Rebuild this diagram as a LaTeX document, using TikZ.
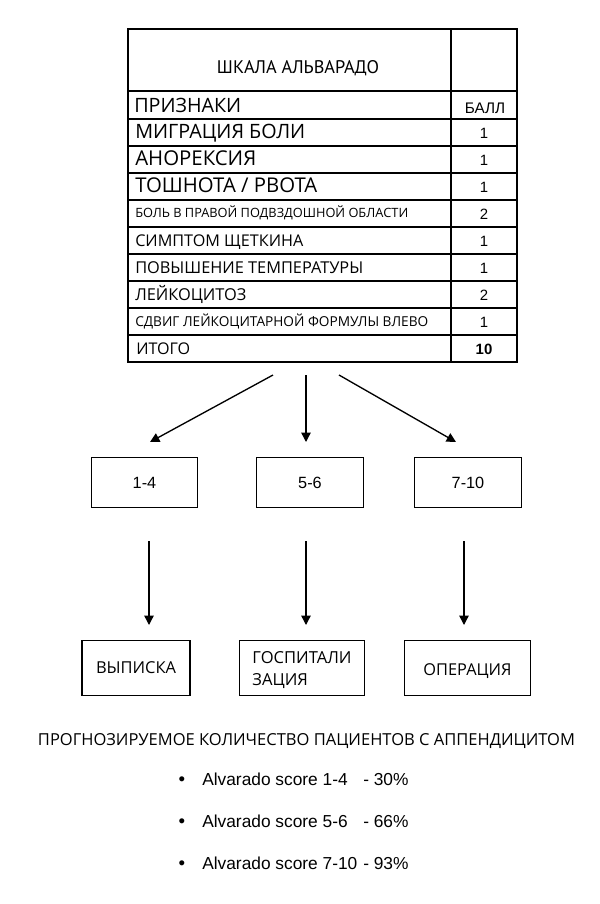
\documentclass[tikz,border=0pt]{standalone}
\usepackage{fontspec}
\setmainfont{Open Sans}
\newfontfamily\titlefont{PT Sans}
\newfontfamily\arialfont{Liberation Sans}
\usetikzlibrary{arrows.meta}

% text set to a width given in pixels of the reference
\newlength\unitpx
\setlength\unitpx{0.75pt}
\newcommand\fitpx[2]{\resizebox{#1\unitpx}{!}{#2}}
% move text down inside its box without changing the box
\newcommand\lowerpx[2]{\raisebox{-#1\unitpx}[\height][\depth]{#2}}

\tikzset{
  cell/.style={anchor=base west, inner sep=0pt},
  score/.style={anchor=base, inner sep=0pt, font=\arialfont\fontsize{11.2}{13}\selectfont},
  rangebox/.style={draw, line width=0.8pt, minimum width=80pt, minimum height=37pt,
    font=\arialfont\fontsize{12.2}{14}\selectfont},
  actbox/.style={draw, line width=0.8pt, minimum height=41pt, inner sep=0pt},
  arr/.style={-{Triangle[length=7pt,width=7pt]}, line width=1pt},
  bullettext/.style={anchor=base west, inner sep=0pt, font=\arialfont\fontsize{13}{15}\selectfont},
}

\begin{document}
\begin{tikzpicture}[x=0.75pt, y=-0.75pt]
    \useasboundingbox (0,0) rectangle (600,904);

    % Table frame
    \draw[line width=1pt] (128,29) rectangle (517,362);
    \draw[line width=1pt] (451,29) -- (451,362);
    \foreach \y in {91,119,146,173,200,227,254,281,308,335}
        \draw[line width=1pt] (128,\y) -- (517,\y);

    % Title and header
    \node[anchor=base, inner sep=0pt] (title) at (298,73) {\titlefont\fitpx{162}{ШКАЛА АЛЬВАРАДО}};
    \node[cell] (hdr) at (134,112) {\fitpx{107}{ПРИЗНАКИ}};
    \node[anchor=base, inner sep=0pt, font=\arialfont\fontsize{11.5}{13}\selectfont] (hdrval) at (485,113) {БАЛЛ};

    % Rows
    \foreach \lab/\w/\cap/\val [count=\k] in {
        {МИГРАЦИЯ БОЛИ}/170/13/1,
        {АНОРЕКСИЯ}/121/13/1,
        {ТОШНОТА / РВОТА}/182/13/1,
        {БОЛЬ В ПРАВОЙ ПОДВЗДОШНОЙ ОБЛАСТИ}/273/9/2,
        {СИМПТОМ ЩЕТКИНА}/168/12/1,
        {ПОВЫШЕНИЕ ТЕМПЕРАТУРЫ}/228/12/1,
        {ЛЕЙКОЦИТОЗ}/111/12/2,
        {СДВИГ ЛЕЙКОЦИТАРНОЙ ФОРМУЛЫ ВЛЕВО}/293/11/1}
    {
        \node[cell] (row\k) at (135,{105+27*\k+\cap/2}) {\fitpx{\w}{\lab}};
        \node[score] (val\k) at (484,{105+27*\k+6}) {\val};
    }
    \node[cell] (total) at (136,354.5) {\fitpx{54}{ИТОГО}};
    \node[score, font=\arialfont\bfseries\fontsize{11.2}{13}\selectfont] (totalval) at (484,354.5) {10};

    % Score ranges
    \node[rangebox] (low) at (144.5,482.5) {1-4};
    \node[rangebox] (mid) at (310,482.5) {5-6};
    \node[rangebox] (high) at (468,482.5) {7-10};

    % Decisions
    \node[actbox, minimum width=81pt] (home) at (136,668) {\fitpx{80}{ВЫПИСКА}};
    \node[actbox, minimum width=94pt] (hosp) at (302,668)
        {\lowerpx{2.5}{\fitpx{99}{\begin{tabular}{@{}l@{}}ГОСПИТАЛИ\\[1.5pt]ЗАЦИЯ\end{tabular}}}};
    \node[actbox, minimum width=94pt] (surg) at (467.5,668) {\lowerpx{3}{\fitpx{88}{ОПЕРАЦИЯ}}};

    % Arrows
    \coordinate (s1) at (273,375);
    \coordinate (s2) at (306,375);
    \coordinate (s3) at (339,375);
    \coordinate (e1) at (150,442);
    \coordinate (e2) at (306,442);
    \coordinate (e3) at (456,442);
    \draw[arr] (s1) -- (e1);
    \draw[arr] (s2) -- (e2);
    \draw[arr] (s3) -- (e3);

    \coordinate (t1) at (149,541);
    \coordinate (t2) at (306,541);
    \coordinate (t3) at (464,541);
    \coordinate (b1) at (149,625);
    \coordinate (b2) at (306,625);
    \coordinate (b3) at (464,625);
    \draw[arr] (t1) -- (b1);
    \draw[arr] (t2) -- (b2);
    \draw[arr] (t3) -- (b3);

    % Forecast
    \node[anchor=base, inner sep=0pt] (fore) at (306.5,745) {\fitpx{537}{ПРОГНОЗИРУЕМОЕ КОЛИЧЕСТВО ПАЦИЕНТОВ С АППЕНДИЦИТОМ}};
    \foreach \rng/\pct [count=\k] in {1-4/30, 5-6/66, 7-10/93}
    {
        \node[anchor=base, inner sep=0pt, font=\arialfont\fontsize{14}{15}\selectfont] (dot\k) at (182,{743+42*\k}) {\textbullet};
        \node[bullettext] (item\k) at (202,{743+42*\k}) {Alvarado score \rng};
        \node[bullettext] (pct\k) at (363,{743+42*\k}) {- \pct\%};
    }
\end{tikzpicture}
\end{document}
